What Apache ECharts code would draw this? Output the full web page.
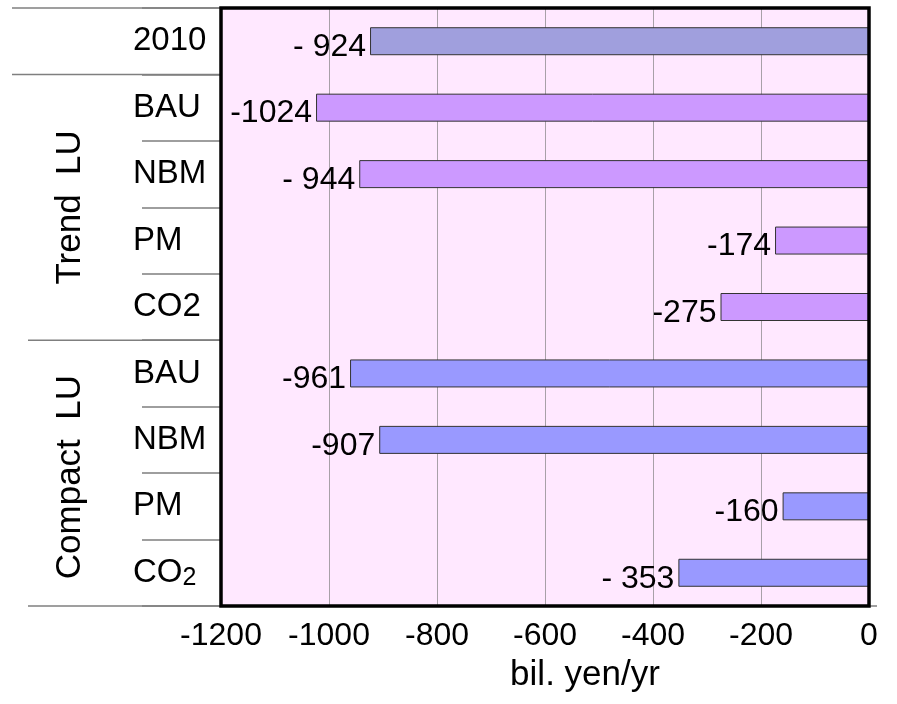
<!DOCTYPE html>
<html>
<head>
  <meta charset="utf-8" />
  <title>bil. yen/yr</title>
  <script src="https://cdn.jsdelivr.net/npm/echarts@6/dist/echarts.min.js"></script>
  <style>
    html, body { margin: 0; padding: 0; background: #fff; }
    #main { width: 897px; height: 704px; }
  </style>
</head>
<body>
<div id="main"></div>
<script>
  // data
  var categories = ['2010', 'BAU', 'NBM', 'PM', 'CO2', 'BAU', 'NBM', 'PM', 'CO₂'];
  var values = [-924, -1024, -944, -174, -275, -961, -907, -160, -353];
  var labelTexts = ['- 924', '-1024', '- 944', '-174', '-275', '-961', '-907', '-160', '- 353'];
  var groupOf = ['base', 'trend', 'trend', 'trend', 'trend', 'compact', 'compact', 'compact', 'compact'];
  var groupNames = ['Trend  LU', 'Compact  LU'];
  var xTicks = { min: -1200, max: 0, step: 200 };

  var colors = { base: '#a09fdd', trend: '#cc99ff', compact: '#9999ff' };
  var FONT = 'Liberation Sans, Arial, sans-serif';

  // grid box
  var G = { left: 221, top: 8, right: 28, bottom: 98 };
  var W = 897, H = 704;
  var gh = H - G.top - G.bottom;
  function rowY(k) { return G.top + gh * k / categories.length; }

  var lineStyle = { stroke: '#7f7f7f', lineWidth: 1.5 };
  function hline(x1, x2, y) {
    return { type: 'line', shape: { x1: x1, y1: y, x2: x2, y2: y }, style: lineStyle, z: 5 };
  }

  var graphics = [
    hline(12, G.left, rowY(0)),
    hline(12, G.left, rowY(1)),
    hline(28, G.left, rowY(5)),
    hline(28, W - 20, rowY(9)),
    {
      // heavy frame round the plot
      type: 'rect', z: 20,
      shape: { x: G.left, y: G.top, width: W - G.left - G.right, height: gh },
      style: { fill: null, stroke: '#000', lineWidth: 3.5 }
    },
    {
      type: 'text', x: 70, y: (rowY(1) + rowY(5)) / 2, rotation: Math.PI / 2,
      style: { text: groupNames[0], font: '35px ' + FONT, fill: '#000', textAlign: 'center', textVerticalAlign: 'middle' }
    },
    {
      type: 'text', x: 70, y: (rowY(5) + rowY(9)) / 2 + 4, rotation: Math.PI / 2,
      style: { text: groupNames[1], font: '35px ' + FONT, fill: '#000', textAlign: 'center', textVerticalAlign: 'middle' }
    }
  ];

  var chart = echarts.init(document.getElementById('main'));
  var option = {
    animation: false,
    backgroundColor: '#fff',
    textStyle: { fontFamily: FONT },
    grid: {
      left: G.left, right: G.right, top: G.top, bottom: G.bottom,
      show: true, backgroundColor: '#ffe8ff', borderWidth: 0,
      containLabel: false
    },
    xAxis: {
      type: 'value',
      min: xTicks.min, max: xTicks.max, interval: xTicks.step,
      axisLine: { show: false },
      axisTick: { show: false },
      splitLine: { show: true, lineStyle: { color: '#a8a0a8', width: 1 } },
      axisLabel: {
        fontSize: 32, color: '#000', margin: 14, fontFamily: FONT,
        formatter: function (v) { return String(v); }
      },
      name: 'bil. yen/yr',
      nameLocation: 'middle',
      nameGap: 52,
      nameTextStyle: { fontSize: 35, color: '#000', padding: [0, 0, 0, 80], fontFamily: FONT }
    },
    yAxis: {
      type: 'category',
      inverse: true,
      data: categories,
      axisLine: { show: false, onZero: false },
      axisTick: { show: true, length: 79, lineStyle: { color: '#7f7f7f', width: 1.5 } },
      splitLine: { show: false },
      axisLabel: {
        align: 'left', margin: 88, color: '#000', fontSize: 33, fontFamily: FONT,
        formatter: function (v) {
          if (v.indexOf('₂') >= 0) return '{n|' + v.replace('₂', '') + '}{s|2}';
          return v;
        },
        rich: {
          n: { fontSize: 33, fontFamily: FONT, color: '#000' },
          s: { fontSize: 25, fontFamily: FONT, color: '#000', padding: [10, 0, 0, 0] }
        }
      }
    },
    series: [{
      type: 'bar',
      barWidth: 28,
      data: values.map(function (v, i) {
        return { value: v, itemStyle: { color: colors[groupOf[i]] } };
      }),
      itemStyle: { borderColor: '#333', borderWidth: 1 },
      label: {
        show: true, position: 'left', distance: 4, offset: [0, 6],
        fontSize: 32, color: '#000', fontFamily: FONT,
        formatter: function (p) { return labelTexts[p.dataIndex]; }
      }
    }],
    graphic: graphics
  };
  chart.setOption(option);
</script>
</body>
</html>
